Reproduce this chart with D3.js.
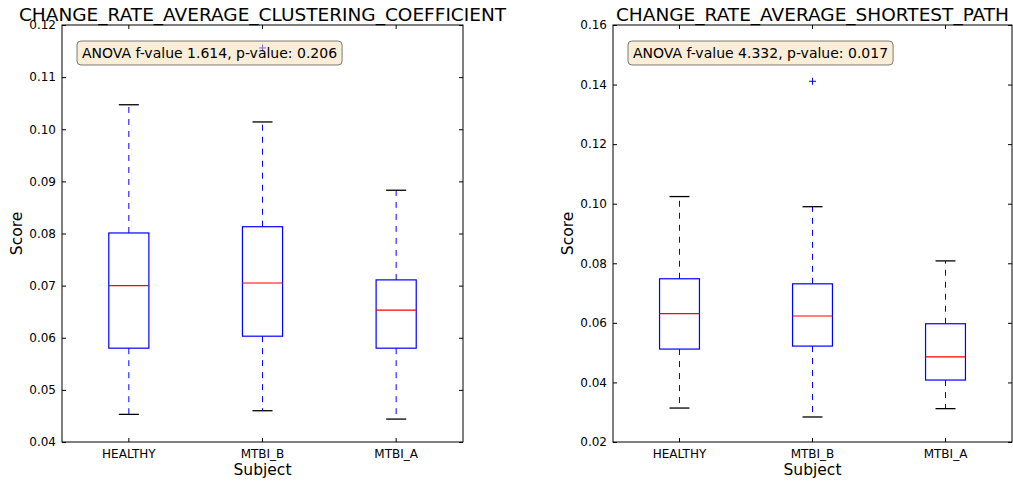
<!DOCTYPE html>
<html><head><meta charset="utf-8">
<script src="https://cdn.jsdelivr.net/npm/d3@7"></script>
<style>
body{margin:0;background:#fff}
svg{display:block}
text{font-family:"DejaVu Sans",sans-serif;fill:#000}
</style>
</head><body>
<svg id="c" width="1013" height="481"></svg>
<script>
// ---- data ----
const categories = ["HEALTHY", "MTBI_B", "MTBI_A"];

const ccTitle = "CHANGE_RATE_AVERAGE_CLUSTERING_COEFFICIENT";
const ccAnnotation = "ANOVA f-value 1.614, p-value: 0.206";
const ccTicks = [0.04, 0.05, 0.06, 0.07, 0.08, 0.09, 0.10, 0.11, 0.12];
const ccWhiskerLow  = [0.0453, 0.0460, 0.0444];
const ccQ1          = [0.0580, 0.0603, 0.0580];
const ccMedian      = [0.0700, 0.0705, 0.0653];
const ccQ3          = [0.0801, 0.0813, 0.0711];
const ccWhiskerHigh = [0.1047, 0.1014, 0.0883];
const ccOutliers    = [[], [0.1156], []];

const spTitle = "CHANGE_RATE_AVERAGE_SHORTEST_PATH";
const spAnnotation = "ANOVA f-value 4.332, p-value: 0.017";
const spTicks = [0.02, 0.04, 0.06, 0.08, 0.10, 0.12, 0.14, 0.16];
const spWhiskerLow  = [0.0314, 0.0284, 0.0312];
const spQ1          = [0.0512, 0.0522, 0.0408];
const spMedian      = [0.0631, 0.0623, 0.0486];
const spQ3          = [0.0748, 0.0731, 0.0597];
const spWhiskerHigh = [0.1024, 0.0990, 0.0808];
const spOutliers    = [[], [0.1411], []];

// ---- drawing ----
const svg = d3.select("#c");
const plotTop = 25, plotBottom = 442;

const panels = [
  {left: 62, right: 463, title: ccTitle, note: ccAnnotation, ticks: ccTicks,
   lo: ccWhiskerLow, q1: ccQ1, med: ccMedian, q3: ccQ3, hi: ccWhiskerHigh, out: ccOutliers},
  {left: 613, right: 1012, title: spTitle, note: spAnnotation, ticks: spTicks,
   lo: spWhiskerLow, q1: spQ1, med: spMedian, q3: spQ3, hi: spWhiskerHigh, out: spOutliers}
];

panels.forEach(p => {
  const w = p.right - p.left, h = plotBottom - plotTop;
  const g = svg.append("g").attr("transform", `translate(${p.left},${plotTop})`);
  const x = d3.scaleBand().domain(categories).range([0, w]).paddingInner(0).paddingOuter(0);
  const y = d3.scaleLinear().domain(d3.extent(p.ticks)).range([h, 0]);
  const cx = c => x(c) + x.bandwidth() / 2;
  const bw = x.bandwidth() * 0.3;

  // axes
  const fmt = d3.format(".2f");
  const ax = g.append("g").call(d3.axisLeft(y).tickValues(p.ticks).tickFormat(fmt)
      .tickSizeInner(-4).tickSizeOuter(0).tickPadding(6));
  ax.selectAll("text").style("font-size", "12px").style("font-family", "DejaVu Sans");
  g.append("g").attr("transform", `translate(${w},0)`)
    .call(d3.axisRight(y).tickValues(p.ticks).tickFormat("").tickSizeInner(-4).tickSizeOuter(0));
  const bx = g.append("g").attr("transform", `translate(0,${h})`)
    .call(d3.axisBottom(x).tickSizeInner(-4).tickSizeOuter(0).tickPadding(7));
  bx.selectAll("text").style("font-size", "12px").style("font-family", "DejaVu Sans");
  g.append("g").call(d3.axisTop(x).tickFormat("").tickSizeInner(-4).tickSizeOuter(0));
  g.selectAll(".domain").remove();
  g.selectAll(".tick line").attr("stroke", "#000");

  const data = categories.map((c, i) => ({c, lo: p.lo[i], q1: p.q1[i], med: p.med[i], q3: p.q3[i], hi: p.hi[i], out: p.out[i]}));

  // whiskers
  g.selectAll(".wu").data(data).join("line")
    .attr("x1", d => cx(d.c)).attr("x2", d => cx(d.c))
    .attr("y1", d => y(d.q3)).attr("y2", d => y(d.hi))
    .attr("stroke", "#0000ff").attr("stroke-dasharray", "6,6");
  g.selectAll(".wl").data(data).join("line")
    .attr("x1", d => cx(d.c)).attr("x2", d => cx(d.c))
    .attr("y1", d => y(d.q1)).attr("y2", d => y(d.lo))
    .attr("stroke", "#0000ff").attr("stroke-dasharray", "6,6");
  // caps
  ["hi", "lo"].forEach(k => {
    g.selectAll(".cap" + k).data(data).join("line")
      .attr("x1", d => cx(d.c) - bw / 4).attr("x2", d => cx(d.c) + bw / 4)
      .attr("y1", d => y(d[k])).attr("y2", d => y(d[k]))
      .attr("stroke", "#000").attr("stroke-width", 1.3);
  });
  // boxes
  g.selectAll(".box").data(data).join("rect")
    .attr("x", d => cx(d.c) - bw / 2).attr("width", bw)
    .attr("y", d => y(d.q3)).attr("height", d => y(d.q1) - y(d.q3))
    .attr("fill", "none").attr("stroke", "#0000ff").attr("stroke-width", 1.2);
  // medians
  g.selectAll(".med").data(data).join("line")
    .attr("x1", d => cx(d.c) - bw / 2).attr("x2", d => cx(d.c) + bw / 2)
    .attr("y1", d => y(d.med)).attr("y2", d => y(d.med))
    .attr("stroke", "#ff0000").attr("stroke-width", 1.2);
  // outliers
  const outs = data.flatMap(d => d.out.map(v => ({c: d.c, v})));
  g.selectAll(".out").data(outs).join("path")
    .attr("d", d => { const px = cx(d.c), py = y(d.v); return `M${px-3.5},${py}H${px+3.5}M${px},${py-3.5}V${py+3.5}`; })
    .attr("stroke", "#0000ff").attr("stroke-width", 1).attr("fill", "none");

  // spines
  g.append("rect").attr("width", w).attr("height", h)
    .attr("fill", "none").attr("stroke", "#000").attr("stroke-width", 1);

  // annotation box
  const ann = g.append("g");
  const bgRect = ann.append("rect");
  const t = ann.append("text").attr("x", 20).attr("y", 33).style("font-size", "14px").text(p.note);
  const tl = t.node().getComputedTextLength();
  bgRect.attr("x", 15).attr("y", 16).attr("width", tl + 10).attr("height", 24)
    .attr("rx", 4).attr("ry", 4)
    .attr("fill", "#f5deb3").attr("fill-opacity", 0.5)
    .attr("stroke", "#000").attr("stroke-opacity", 0.5).attr("stroke-width", 1);

  // title
  svg.append("text").attr("x", p.left + w / 2).attr("y", 21).attr("text-anchor", "middle")
    .style("font-size", "18.5px").text(p.title);
  // axis labels
  svg.append("text").attr("x", p.left + w / 2).attr("y", 475).attr("text-anchor", "middle")
    .style("font-size", "15.5px").text("Subject");
  svg.append("text").attr("transform", `translate(${p.left - 40},${plotTop + h / 2}) rotate(-90)`)
    .attr("text-anchor", "middle").style("font-size", "15.5px").text("Score");
});
</script>
</body></html>
